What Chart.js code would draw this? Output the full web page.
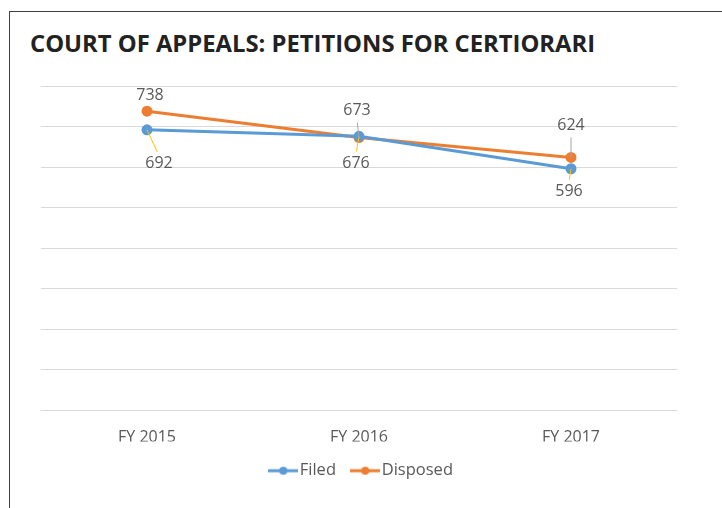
<!DOCTYPE html>
<html>
<head>
<meta charset="utf-8">
<script src="https://cdn.jsdelivr.net/npm/chart.js@4"></script>
<style>
  html, body { margin: 0; padding: 0; background: #ffffff; }
  body { width: 722px; height: 508px; position: relative; overflow: hidden; }
  .frame {
    position: absolute; left: 9px; top: 11px; right: -4px; bottom: -4px;
    border-left: 1.5px solid #404040; border-top: 1.5px solid #404040;
  }
  .title {
    position: absolute; left: 30px; top: 28px; white-space: nowrap;
    font-family: 'Open Sans', sans-serif; font-weight: bold; font-size: 23.8px;
    line-height: 30px; color: #222222;
  }
  .wrap { position: absolute; left: 0; top: 0; width: 722px; height: 508px; }
</style>
</head>
<body>
<div class="frame"></div>
<div class="title">COURT OF APPEALS: PETITIONS FOR CERTIORARI</div>
<div class="wrap"><canvas id="chart" width="722" height="508"></canvas></div>
<script>
const years = ['FY 2015', 'FY 2016', 'FY 2017'];
const filed = [692, 676, 596];
const disposed = [738, 673, 624];

const colors = {
  filed: '#5b9bd5',
  disposed: '#ed7d31',
  text: '#595959',
  grid: '#d9d9d9'
};

// where each value label sits relative to its point, and its leader line colour
const labelOffsets = {
  0: [[12, 34], [-3, 27], [-2, 23]],
  1: [[3, -16], [-2, -27], [0, -32]]
};
const leaderColors = { 0: '#ffc000', 1: '#a6a6a6' };

function legendIcon(color) {
  const c = document.createElement('canvas');
  c.width = 30;
  c.height = 10;
  const ctx = c.getContext('2d');
  ctx.strokeStyle = color;
  ctx.lineWidth = 3;
  ctx.beginPath();
  ctx.moveTo(0, 5);
  ctx.lineTo(30, 5);
  ctx.stroke();
  ctx.fillStyle = color;
  ctx.beginPath();
  ctx.arc(15, 5, 4, 0, Math.PI * 2);
  ctx.fill();
  return c;
}

const valueLabels = {
  id: 'valueLabels',
  afterDatasetsDraw(chart) {
    const ctx = chart.ctx;
    ctx.save();
    ctx.font = '16px "Open Sans"';
    ctx.textAlign = 'center';
    ctx.textBaseline = 'middle';
    chart.data.datasets.forEach((ds, i) => {
      const meta = chart.getDatasetMeta(i);
      meta.data.forEach((pt, j) => {
        const [dx, dy] = labelOffsets[i][j];
        const cx = pt.x + dx;
        const cy = pt.y + dy;
        if (Math.abs(dy) > 20) {
          ctx.strokeStyle = leaderColors[i];
          ctx.lineWidth = 1;
          ctx.beginPath();
          ctx.moveTo(pt.x, pt.y);
          ctx.lineTo(cx - dx * 0.15, cy - Math.sign(dy) * 12);
          ctx.stroke();
        }
        ctx.fillStyle = colors.text;
        ctx.fillText(String(ds.data[j]), cx, cy);
      });
    });
    ctx.restore();
  }
};

// nudge the legend a little right, it sits off-centre in the original
const legendNudge = {
  id: 'legendNudge',
  afterLayout(chart) {
    chart.legend.left += 5;
    chart.legend.right += 5;
  }
};

new Chart(document.getElementById('chart'), {
  type: 'line',
  data: {
    labels: years,
    datasets: [
      {
        label: 'Filed',
        data: filed,
        borderColor: colors.filed,
        backgroundColor: colors.filed,
        borderWidth: 3,
        pointRadius: 4,
        tension: 0
      },
      {
        label: 'Disposed',
        data: disposed,
        borderColor: colors.disposed,
        backgroundColor: colors.disposed,
        borderWidth: 3,
        pointRadius: 4,
        tension: 0
      }
    ]
  },
  options: {
    responsive: false,
    animation: false,
    devicePixelRatio: 1,
    layout: {
      autoPadding: false,
      padding: { left: 41, right: 45, top: 86, bottom: 19 }
    },
    plugins: {
      legend: {
        position: 'bottom',
        labels: {
          usePointStyle: true,
          color: colors.text,
          font: { family: 'Open Sans', size: 16.5 },
          boxWidth: 30,
          boxHeight: 10,
          padding: 21,
          generateLabels: (chart) => chart.data.datasets.map((ds, i) => ({
            text: ds.label,
            pointStyle: legendIcon(ds.borderColor),
            fontColor: colors.text,
            hidden: false,
            datasetIndex: i
          }))
        }
      },
      tooltip: { enabled: false }
    },
    scales: {
      x: {
        offset: true,
        grid: { display: false, drawTicks: false },
        border: { display: false },
        ticks: { color: colors.text, font: { family: 'Open Sans', size: 16 }, padding: 17 },
        afterFit: (axis) => { axis.height = 31; }
      },
      y: {
        min: 0,
        max: 800,
        grid: { color: colors.grid, drawTicks: false },
        border: { display: false },
        ticks: { display: false, stepSize: 100 },
        afterFit: (axis) => { axis.width = 0; }
      }
    }
  },
  plugins: [valueLabels, legendNudge]
});
</script>
</body>
</html>
